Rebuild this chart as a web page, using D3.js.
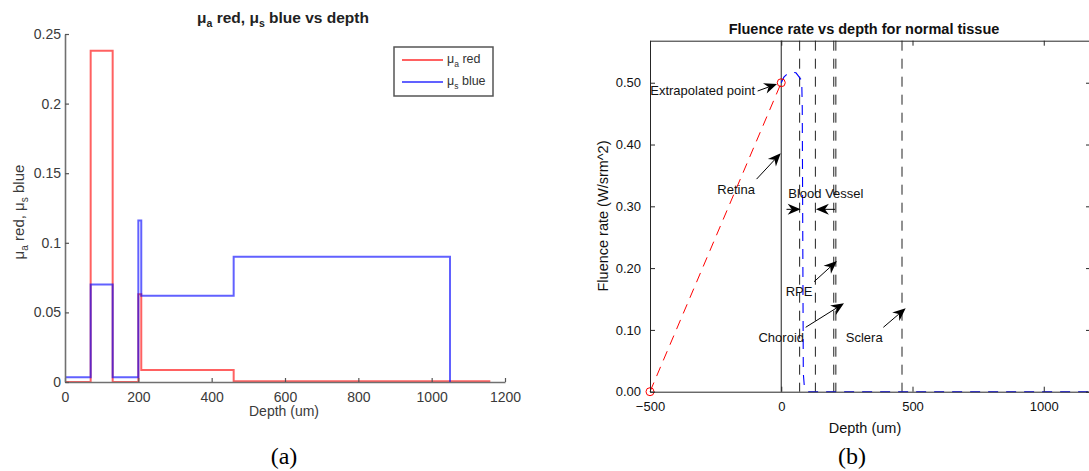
<!DOCTYPE html>
<html>
<head>
<meta charset="utf-8">
<script src="https://cdn.jsdelivr.net/npm/d3@7"></script>
<style>
  body { margin: 0; background: #fff; }
  svg { display: block; font-family: "Liberation Sans", Arial, sans-serif; }
</style>
</head>
<body>
<svg id="fig" width="1089" height="471"></svg>
<script>
// ---------- Panel (a): absorption / scattering coefficients per layer ----------
const redDepth  = [0, 70, 130, 200, 208, 460, 1160];
const redValue  = [0, 0.238, 0, 0.063, 0.0086, 0.0005, 0.0005];
const blueDepth = [0, 70, 130, 200, 208, 460, 1050];
const blueValue = [0.0035, 0.07, 0.0035, 0.116, 0.062, 0.09, 0];
const aXTicks = [0, 200, 400, 600, 800, 1000, 1200];
const aYTicks = [0, 0.05, 0.1, 0.15, 0.2, 0.25];
const aYTickLabels = ["0", "0.05", "0.1", "0.15", "0.2", "0.25"];

// ---------- Panel (b): fluence rate vs depth ----------
const fluenceDepth = [0, 10, 20, 33, 45, 56, 65, 72, 78, 80, 82, 84, 88, 95, 103, 1180];
const fluenceValue = [0.5, 0.509, 0.513, 0.516, 0.517, 0.516, 0.511, 0.507, 0.504, 0.46, 0.25, 0.03, 0.008, 0.003, 0, 0];
const extrapDepth = [-500, 0];
const extrapValue = [0, 0.5];
const layerBoundaries = [70, 130, 200, 208, 460];
const bXTicks = [-500, 0, 500, 1000];
const bYTicks = [0, 0.1, 0.2, 0.3, 0.4, 0.5];
const annotations = [
  { text: "Extrapolated point", x: -499, y: 0.487, anchor: "start", from: [-90, 0.4866], to: [-16, 0.498] },
  { text: "Retina", x: -172, y: 0.328, anchor: "middle", from: [-94, 0.344], to: [-2, 0.386] },
  { text: "Blood Vessel", x: 170, y: 0.321, anchor: "middle", from: [20, 0.2951], to: [74, 0.2951] },
  { text: null, from: [205, 0.2951], to: [132, 0.2951] },
  { text: "RPE", x: 68, y: 0.163, anchor: "middle", from: [125, 0.178], to: [212, 0.2115] },
  { text: "Choroid", x: 0, y: 0.088, anchor: "middle", from: [93, 0.1042], to: [239, 0.143] },
  { text: "Sclera", x: 316, y: 0.088, anchor: "middle", from: [389, 0.1042], to: [474, 0.135] }
];

const svg = d3.select("#fig");
svg.append("rect").attr("width", 1089).attr("height", 471).attr("fill", "#fff");

// ===================== Panel (a) =====================
const xA = d3.scaleLinear().domain([0, 1200]).range([65, 505]);
const yA = d3.scaleLinear().domain([0, 0.25]).range([382, 34]);
const gA = svg.append("g");
const axisGrey = "#707070";
const textGrey = "#3a3a3a";

const stepLine = d3.line().curve(d3.curveStepAfter);

// series lines (semi-transparent so overlaps blend)
gA.append("path")
  .attr("d", stepLine(redDepth.map((d, i) => [xA(d), yA(redValue[i])])))
  .attr("fill", "none").attr("stroke", "#ff0000").attr("stroke-opacity", 0.62).attr("stroke-width", 2);
gA.append("path")
  .attr("d", stepLine(blueDepth.map((d, i) => [xA(d), yA(blueValue[i])])))
  .attr("fill", "none").attr("stroke", "#0000ff").attr("stroke-opacity", 0.62).attr("stroke-width", 2);

const axA_x = gA.append("g").attr("transform", `translate(0,${yA(0)})`)
  .call(d3.axisBottom(xA).tickValues(aXTicks).tickFormat(d3.format("d")).tickSize(-4).tickSizeOuter(0).tickPadding(10));
const axA_y = gA.append("g").attr("transform", `translate(${xA(0)},0)`)
  .call(d3.axisLeft(yA).tickValues(aYTicks).tickFormat((d, i) => aYTickLabels[i]).tickSize(-4).tickSizeOuter(0).tickPadding(4));
[axA_x, axA_y].forEach(ax => {
  ax.select(".domain").attr("stroke", axisGrey).attr("stroke-width", 1.6);
  ax.selectAll(".tick line").attr("stroke", "#555").attr("stroke-width", 1.2);
  ax.selectAll(".tick text").attr("fill", textGrey).attr("font-size", 14)
    .attr("font-family", "Liberation Sans, Arial, sans-serif");
});

// text with subscripts
function subText(sel, parts, size) {
  parts.forEach(p => {
    const t = sel.append("tspan").text(p.t);
    if (p.sub) t.attr("font-size", size * 0.68).attr("dy", size * 0.28);
    else if (p.after) t.attr("dy", -size * 0.28);
  });
}
const titleA = gA.append("text").attr("x", 283).attr("y", 23).attr("text-anchor", "middle")
  .attr("font-size", 15.5).attr("font-weight", "bold").attr("fill", "#222");
subText(titleA, [{ t: "\u03bc" }, { t: "a", sub: true }, { t: " red, \u03bc", after: true }, { t: "s", sub: true }, { t: " blue vs depth", after: true }], 15.5);

const ylabA = gA.append("text").attr("transform", "translate(24,212) rotate(-90)")
  .attr("text-anchor", "middle").attr("font-size", 15).attr("fill", textGrey);
subText(ylabA, [{ t: "\u03bc" }, { t: "a", sub: true }, { t: " red, \u03bc", after: true }, { t: "s", sub: true }, { t: " blue", after: true }], 15);

gA.append("text").attr("x", 284).attr("y", 416).attr("text-anchor", "middle")
  .attr("font-size", 14).attr("fill", textGrey).text("Depth (um)");

// legend
const leg = gA.append("g");
leg.append("rect").attr("x", 394).attr("y", 47).attr("width", 99).attr("height", 49)
  .attr("fill", "#fff").attr("stroke", "#555").attr("stroke-width", 1.5);
const legItems = [
  { sym: "a", label: " red", color: "#ff0000", y: 60 },
  { sym: "s", label: " blue", color: "#0000ff", y: 82 }
];
legItems.forEach(it => {
  leg.append("line").attr("x1", 402).attr("x2", 443).attr("y1", it.y).attr("y2", it.y)
    .attr("stroke", it.color).attr("stroke-opacity", 0.62).attr("stroke-width", 2);
  const t = leg.append("text").attr("x", 447).attr("y", it.y + 3).attr("font-size", 12.5).attr("fill", "#333");
  subText(t, [{ t: "\u03bc" }, { t: it.sym, sub: true }, { t: it.label, after: true }], 12.5);
});

// ===================== Panel (b) =====================
const xB = d3.scaleLinear().domain([-500, 1180]).range([650, 1091]);
const yB = d3.scaleLinear().domain([0, 0.568]).range([391.7, 40.7]);
const gB = svg.append("g");
const dark = "#262626";

// vertical reference line at the surface
gB.append("line").attr("x1", xB(0)).attr("x2", xB(0)).attr("y1", yB(0)).attr("y2", yB(0.568))
  .attr("stroke", "#333").attr("stroke-width", 1.1);

// layer boundaries
gB.selectAll("line.boundary").data(layerBoundaries).join("line").attr("class", "boundary")
  .attr("x1", d => xB(d)).attr("x2", d => xB(d)).attr("y1", yB(0.568)).attr("y2", yB(0))
  .attr("stroke", "#222").attr("stroke-width", 1).attr("stroke-dasharray", "10,8");

// fluence curve
const lineB = d3.line().x(d => xB(d[0])).y(d => yB(d[1]));
gB.append("path").attr("d", lineB(fluenceDepth.map((d, i) => [d, fluenceValue[i]])))
  .attr("fill", "none").attr("stroke", "#0000ff").attr("stroke-width", 1.1).attr("stroke-dasharray", "10,8");

// extrapolation line and points
gB.append("path").attr("d", lineB(extrapDepth.map((d, i) => [d, extrapValue[i]])))
  .attr("fill", "none").attr("stroke", "#ff0000").attr("stroke-width", 1).attr("stroke-dasharray", "10,7");
gB.selectAll("circle.ext").data(extrapDepth).join("circle").attr("class", "ext")
  .attr("cx", d => xB(d)).attr("cy", (d, i) => yB(extrapValue[i])).attr("r", 4)
  .attr("fill", "none").attr("stroke", "#ff0000").attr("stroke-width", 1);

// axes (box with inward ticks)
function styleAxis(ax) {
  ax.select(".domain").attr("stroke", dark).attr("stroke-width", 1);
  ax.selectAll(".tick line").attr("stroke", dark);
  ax.selectAll(".tick text").attr("fill", "#111").attr("font-size", 13)
    .attr("font-family", "Liberation Sans, Arial, sans-serif");
}
styleAxis(gB.append("g").attr("transform", `translate(0,${yB(0)})`)
  .call(d3.axisBottom(xB).tickValues(bXTicks).tickFormat(d3.format("d")).tickSize(-5).tickSizeOuter(0).tickPadding(10)));
styleAxis(gB.append("g").attr("transform", `translate(0,${yB(0.568)})`)
  .call(d3.axisTop(xB).tickValues(bXTicks).tickFormat("").tickSize(-5).tickSizeOuter(0)));
styleAxis(gB.append("g").attr("transform", `translate(${xB(-500)},0)`)
  .call(d3.axisLeft(yB).tickValues(bYTicks).tickFormat(d3.format(".2f")).tickSize(-5).tickSizeOuter(0).tickPadding(9)));
styleAxis(gB.append("g").attr("transform", `translate(${xB(1180)},0)`)
  .call(d3.axisRight(yB).tickValues(bYTicks).tickFormat("").tickSize(-5).tickSizeOuter(0)));

// annotations with filled arrowheads
function arrow(g, x1, y1, x2, y2) {
  const ang = Math.atan2(y2 - y1, x2 - x1);
  const L = 13, W = 5.5, N = 9;
  const ca = Math.cos(ang), sa = Math.sin(ang);
  const bx = x2 - L * ca, by = y2 - L * sa;
  const nx = x2 - N * ca, ny = y2 - N * sa;
  g.append("line").attr("x1", x1).attr("y1", y1).attr("x2", nx).attr("y2", ny)
    .attr("stroke", "#000").attr("stroke-width", 1);
  g.append("path")
    .attr("d", `M${x2},${y2}L${bx - W * sa},${by + W * ca}L${nx},${ny}L${bx + W * sa},${by - W * ca}Z`)
    .attr("fill", "#000");
}
annotations.forEach(a => {
  arrow(gB, xB(a.from[0]), yB(a.from[1]), xB(a.to[0]), yB(a.to[1]));
  if (a.text) {
    gB.append("text").attr("x", xB(a.x)).attr("y", yB(a.y)).attr("dy", "0.35em")
      .attr("text-anchor", a.anchor).attr("font-size", 13).attr("fill", "#111").text(a.text);
  }
});

// titles and axis labels
gB.append("text").attr("x", 864).attr("y", 34).attr("text-anchor", "middle")
  .attr("font-size", 14.5).attr("font-weight", "bold").attr("fill", "#111")
  .text("Fluence rate vs depth for normal tissue");
gB.append("text").attr("x", 865).attr("y", 433).attr("text-anchor", "middle")
  .attr("font-size", 14.5).attr("fill", "#111").text("Depth (um)");
gB.append("text").attr("transform", "translate(608,216) rotate(-90)").attr("text-anchor", "middle")
  .attr("font-size", 14.5).attr("fill", "#111").text("Fluence rate (W/srm^2)");

// panel captions
svg.append("text").attr("x", 284).attr("y", 464).attr("text-anchor", "middle")
  .attr("font-family", "Liberation Serif, Times New Roman, serif").attr("font-size", 24).text("(a)");
svg.append("text").attr("x", 852).attr("y", 464).attr("text-anchor", "middle")
  .attr("font-family", "Liberation Serif, Times New Roman, serif").attr("font-size", 24).text("(b)");
</script>
</body>
</html>
